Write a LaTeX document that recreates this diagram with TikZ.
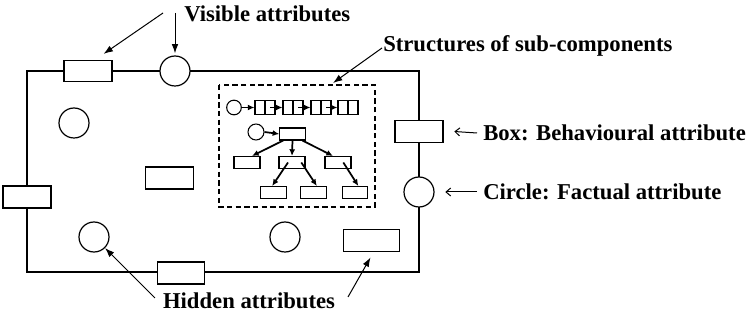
\documentclass[tikz,border=0pt]{standalone}
\usepackage{fontspec}
\setmainfont{Liberation Serif}
\usetikzlibrary{arrows.meta}

\tikzset{
  wire/.style={line width=0.9pt},
  attrbox/.style={draw, line width=0.9pt, fill=white, rectangle, inner sep=0pt},
  attrcirc/.style={draw, line width=0.9pt, fill=white, circle, inner sep=0pt, minimum size=22.5pt},
  subbox/.style={draw, line width=0.8pt, fill=white, rectangle, inner sep=0pt},
  subcirc/.style={draw, line width=0.8pt, fill=white, circle, inner sep=0pt},
  callout/.style={line width=0.75pt, -{Latex[length=7pt,width=5pt]}},
  pointer/.style={line width=0.75pt, -{Straight Barb[length=3.5pt,width=6pt]}},
  link/.style={line width=1.3pt, -{Latex[length=5pt,width=4.5pt]}},
  caption/.style={font=\bfseries\fontsize{17pt}{20pt}\selectfont, anchor=west, inner sep=0pt},
  region/.style={draw, line width=1.4pt, dash pattern=on 4pt off 2.5pt},
}

\begin{document}
\begin{tikzpicture}[x=0.75pt, y=-0.75pt]
\useasboundingbox (0,0) rectangle (747,320);

% component outline
\draw[wire] (27,71) rectangle (419,272);

% visible attributes on the outline
\node[attrbox, minimum width=36pt, minimum height=15.75pt] (topbox) at (88,71) {};
\node[attrcirc] (topcirc) at (175,71) {};
\node[attrbox, minimum width=36pt, minimum height=17pt] (rightbox) at (419,131.5) {};
\node[attrcirc] (rightcirc) at (419,192) {};
\node[attrbox, minimum width=36pt, minimum height=16.5pt] (leftbox) at (27,197) {};
\node[attrbox, minimum width=35.5pt, minimum height=16.5pt] (bottombox) at (181,273) {};

% hidden attributes inside
\node[attrcirc] (incirc1) at (74,123) {};
\node[attrbox, minimum width=36.5pt, minimum height=16.5pt] (inbox1) at (169.5,178) {};
\node[attrcirc] (hidcirc) at (94,237) {};
\node[attrcirc] (incirc2) at (285,237) {};
\node[attrbox, minimum width=42.5pt, minimum height=17pt] (hidbox) at (371.5,240.5) {};

% sub-component structures
\draw[region] (219,85) rectangle (375,207);
\coordinate (regiontop) at (333,85);

% linked chain
\node[subcirc, minimum size=11pt] (c0) at (234,107.5) {};
\foreach \i/\x in {1/265,2/293,3/321,4/348}{
  \node[subbox, minimum width=15pt, minimum height=10pt] (c\i) at (\x,107.5) {};
  \draw[line width=0.8pt] (c\i.north) -- (c\i.south);
}
\draw[link] (c0.east) -- (c1.west);
\draw[link] ([xshift=3.75pt]c1.center) -- (c2.west);
\draw[link] ([xshift=3.75pt]c2.center) -- (c3.west);
\draw[link] ([xshift=3.75pt]c3.center) -- (c4.west);

% tree
\node[subcirc, minimum size=12pt] (t0) at (256,132) {};
\node[subbox, minimum width=19pt, minimum height=9pt] (root) at (292.5,134) {};
\node[subbox, minimum width=19.5pt, minimum height=9pt] (ta) at (247,162.5) {};
\node[subbox, minimum width=19.5pt, minimum height=9pt] (tb) at (292,162.5) {};
\node[subbox, minimum width=19.5pt, minimum height=9pt] (tc) at (338,162.5) {};
\node[subbox, minimum width=19pt, minimum height=9pt] (td) at (273.5,192.5) {};
\node[subbox, minimum width=19pt, minimum height=9pt] (te) at (313.5,192.5) {};
\node[subbox, minimum width=19pt, minimum height=9pt] (tf) at (355,192.5) {};
\draw[link] (t0.east) -- (root.west);
\draw[link] ([xshift=-7pt]root.south) -- ([xshift=3.75pt]ta.north);
\draw[link] (root.south) -- (tb.north);
\draw[link] ([xshift=7.5pt]root.south) -- ([xshift=-3.75pt]tc.north);
\draw[link] ([xshift=-3pt]tb.center) -- ([xshift=-1pt]td.north);
\draw[link] ([xshift=7pt]tb.center) -- ([xshift=2.5pt]te.north);
\draw[link] ([xshift=4pt]tc.center) -- ([xshift=2.5pt]tf.north);

% captions
\node[caption] (vislabel) at (184,14) {Visible attributes};
\node[caption] (structlabel) at (383,46) {Structures of sub-components};
\node[caption] (boxlabel) at (483,133) {Box: Behavioural attribute};
\node[caption] (circlabel) at (483,192) {Circle: Factual attribute};
\node[caption, anchor=center] (hidlabel) at (249,301) {Hidden attributes};

% callout arrows
\coordinate (v1) at (163,13);
\coordinate (v2) at (175,13);
\coordinate (s1) at (382,48);
\coordinate (h1) at (155,298);
\coordinate (h2) at (348,297);
\draw[callout] (v1) -- ([shift={(-9,-6)}]topbox.north east);
\draw[callout] (v2) -- ([yshift=1.5pt]topcirc.north);
\draw[callout] (s1) -- ([yshift=1.5pt]regiontop);
\draw[pointer] ([xshift=-4.5pt]boxlabel.west) -- ([xshift=8pt]rightbox.east);
\draw[pointer] ([xshift=-4.5pt]circlabel.west) -- ([xshift=8pt]rightcirc.east);
\draw[callout] (h1) -- (hidcirc.-45);
\draw[callout] (h2) -- ([shift={(-1,5)}]hidbox.south);
\end{tikzpicture}
\end{document}
